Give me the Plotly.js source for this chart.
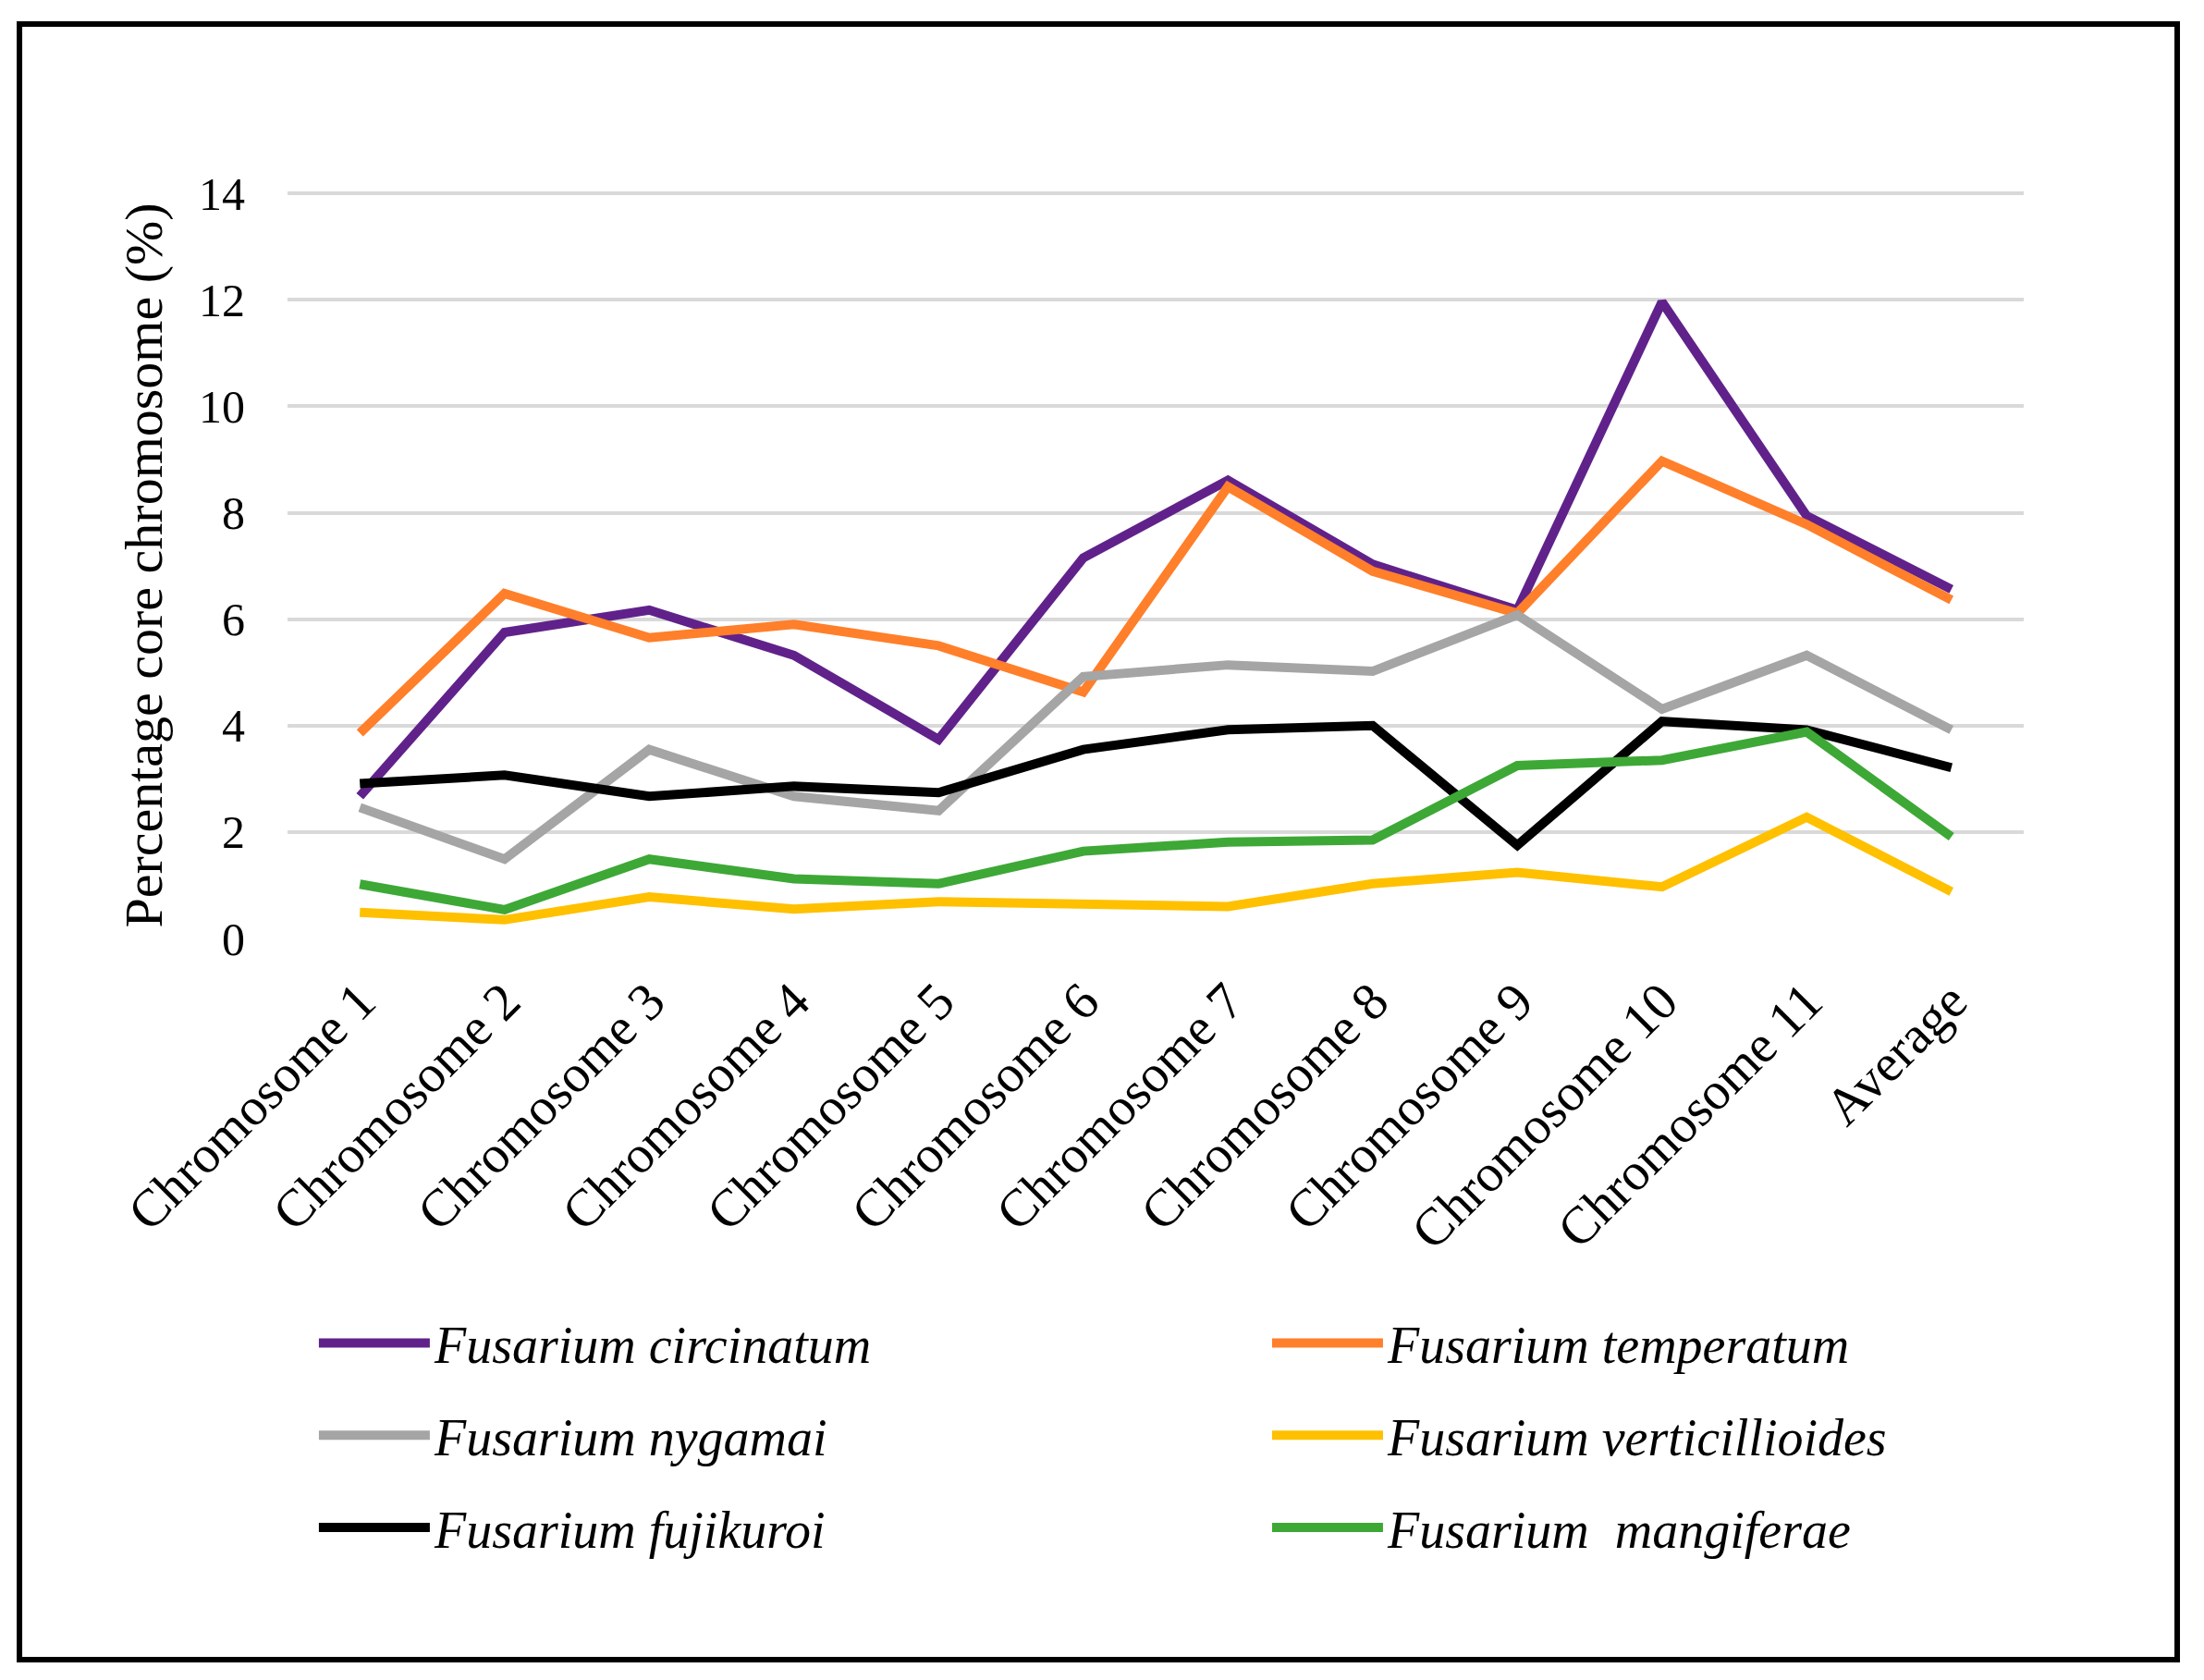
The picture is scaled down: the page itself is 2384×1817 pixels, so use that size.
<!DOCTYPE html>
<html>
<head>
<meta charset="utf-8">
<script src="https://cdn.plot.ly/plotly-3.0.1.min.js"></script>
<style>
html,body{margin:0;padding:0;background:#fff;}
#chart{width:2384px;height:1817px;}
</style>
</head>
<body>
<div id="chart"></div>
<script>
const categories = ["Chromosome 1","Chromosome 2","Chromosome 3","Chromosome 4","Chromosome 5","Chromosome 6","Chromosome 7","Chromosome 8","Chromosome 9","Chromosome 10","Chromosome 11","Average"];

const circinatum      = [2.67, 5.75, 6.17, 5.32, 3.74, 7.15, 8.61, 7.03, 6.17, 11.96, 7.94, 6.56];
const temperatum      = [3.86, 6.48, 5.65, 5.90, 5.50, 4.63, 8.49, 6.90, 6.11, 8.97, 7.78, 6.36];
const nygamai         = [2.46, 1.49, 3.55, 2.67, 2.40, 4.92, 5.14, 5.02, 6.08, 4.31, 5.32, 3.92];
const verticillioides = [0.49, 0.35, 0.78, 0.55, 0.69, 0.66, 0.60, 1.03, 1.24, 0.97, 2.28, 0.88];
const fujikuroi       = [2.91, 3.07, 2.67, 2.86, 2.74, 3.55, 3.92, 4.00, 1.75, 4.08, 3.92, 3.21];
const mangiferae      = [1.02, 0.54, 1.49, 1.12, 1.03, 1.64, 1.81, 1.85, 3.25, 3.35, 3.88, 1.91];

const seriesNames = ["Fusarium circinatum","Fusarium temperatum","Fusarium nygamai","Fusarium verticillioides","Fusarium fujikuroi","Fusarium\u00a0 mangiferae"];
const yTicks = [0,2,4,6,8,10,12,14];

const FONT = "'Liberation Serif', 'DejaVu Serif', serif";

function tr(name, y, color, legend, grp) {
  return {
    type: 'scatter', mode: 'lines', x: categories, y: y, name: name,
    line: {color: color, width: 10},
    legend: legend, legendgroup: grp, hoverinfo: 'skip'
  };
}

const data = [
  tr(seriesNames[0], circinatum, '#60228A', 'legend', 'a'),
  tr(seriesNames[1], temperatum, '#FF7F2A', 'legend2', 'b'),
  tr(seriesNames[2], nygamai, '#A5A5A5', 'legend', 'c'),
  tr(seriesNames[3], verticillioides, '#FFC000', 'legend2', 'd'),
  tr(seriesNames[4], fujikuroi, '#000000', 'legend', 'e'),
  tr(seriesNames[5], mangiferae, '#3DA836', 'legend2', 'f')
];

const legendCommon = {
  orientation: 'v', xanchor: 'left', yanchor: 'top',
  font: {family: FONT, size: 56, style: 'italic', color: '#000'},
  itemwidth: 120, tracegroupgap: 24, bgcolor: 'rgba(0,0,0,0)',
  traceorder: 'grouped'
};

const layout = {
  width: 2384, height: 1817,
  paper_bgcolor: '#fff', plot_bgcolor: '#fff',
  margin: {l: 311, r: 195, t: 208, b: 802},
  showlegend: true,
  font: {family: FONT, color: '#000'},
  xaxis: {
    type: 'category', range: [-0.5, 11.5],
    showgrid: false, zeroline: false, showline: false,
    ticks: '', tickangle: -45,
    tickfont: {family: FONT, size: 57, color: '#000'},
    ticklabelstandoff: 22
  },
  yaxis: {
    range: [0, 14.02], tickvals: yTicks,
    showgrid: true, gridcolor: '#D9D9D9', gridwidth: 4,
    zeroline: false, showline: false, ticks: '',
    tickfont: {family: FONT, size: 50, color: '#000'},
    ticklabelstandoff: 45,
    title: {text: 'Percentage core chromosome (%)', font: {family: FONT, size: 58, color: '#000'}, standoff: 20}
  },
  legend: Object.assign({}, legendCommon, {x: 0.0154, y: -0.489}),
  legend2: Object.assign({}, legendCommon, {x: 0.5644, y: -0.489}),
  shapes: [{
    type: 'rect', xref: 'paper', yref: 'paper',
    x0: -0.1544, x1: 1.0884, y0: -0.9665, y1: 1.2255,
    line: {color: '#000', width: 6}, fillcolor: 'rgba(0,0,0,0)', layer: 'above'
  }]
};

Plotly.newPlot('chart', data, layout, {displayModeBar: false, staticPlot: true});
</script>
</body>
</html>
